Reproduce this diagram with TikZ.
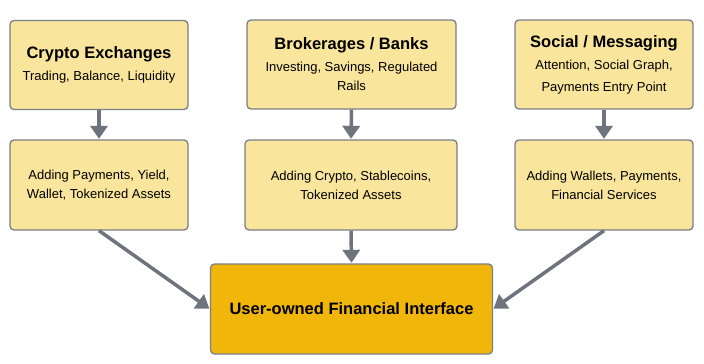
\documentclass[tikz,border=0pt]{standalone}
\usepackage{fontspec}
\setmainfont{Liberation Sans}
\usetikzlibrary{arrows.meta}
\definecolor{boxfill}{RGB}{249,229,155}
\definecolor{finalfill}{RGB}{240,183,10}
\definecolor{boxline}{RGB}{122,126,136}
\definecolor{arrowcol}{RGB}{110,115,126}
\begin{document}
\begin{tikzpicture}[x=1pt,y=-1pt,
  card/.style={draw=boxline, line width=1.3pt, fill=boxfill, rounded corners=4pt,
    align=center, inner sep=0pt, text=black},
  finalbox/.style={card, fill=finalfill},
  conn/.style={draw=arrowcol, line width=3.5pt, -{Triangle[length=13pt,width=17pt]}, shorten >=0.5pt},
]
\useasboundingbox (0,0) rectangle (704,364);
\node[card, minimum width=178pt, minimum height=89pt, font=\fontsize{13}{22}\selectfont] (b1) at (99,65)
  {{\fontsize{16.5}{22}\bfseries\selectfont Crypto Exchanges}\\Trading, Balance, Liquidity};
\node[card, minimum width=209pt, minimum height=89pt, font=\fontsize{13}{22}\selectfont] (b2) at (351.5,64.5)
  {{\fontsize{16.5}{22}\bfseries\selectfont Brokerages / Banks}\\Investing, Savings, Regulated\\[-3pt]Rails};
\node[card, minimum width=178pt, minimum height=89pt, font=\fontsize{13}{22}\selectfont] (b3) at (604,64.5)
  {{\fontsize{16.5}{22}\bfseries\selectfont Social / Messaging}\\Attention, Social Graph,\\Payments Entry Point};
\node[card, minimum width=178pt, minimum height=90pt, font=\fontsize{13}{19}\selectfont] (c1) at (99,185)
  {Adding Payments, Yield,\\Wallet, Tokenized Assets};
\node[card, minimum width=212pt, minimum height=90pt, font=\fontsize{13}{19}\selectfont] (c2) at (351,185)
  {Adding Crypto, Stablecoins,\\Tokenized Assets};
\node[card, minimum width=178pt, minimum height=90pt, font=\fontsize{13}{19}\selectfont] (c3) at (604,185)
  {Adding Wallets, Payments,\\Financial Services};
\node[finalbox, minimum width=282pt, minimum height=90pt, font=\fontsize{16.5}{20}\bfseries\selectfont] (f) at (351.5,309)
  {User-owned Financial Interface};
\draw[conn] (b1) -- (c1);
\draw[conn] (b2.south) -- (c2.north);
\draw[conn] (b3) -- (c3);
\draw[conn] (c1.south) -- (f.west);
\draw[conn] (c2.south) -- (f.north);
\draw[conn] (c3.south) -- (f.east);
\end{tikzpicture}
\end{document}
